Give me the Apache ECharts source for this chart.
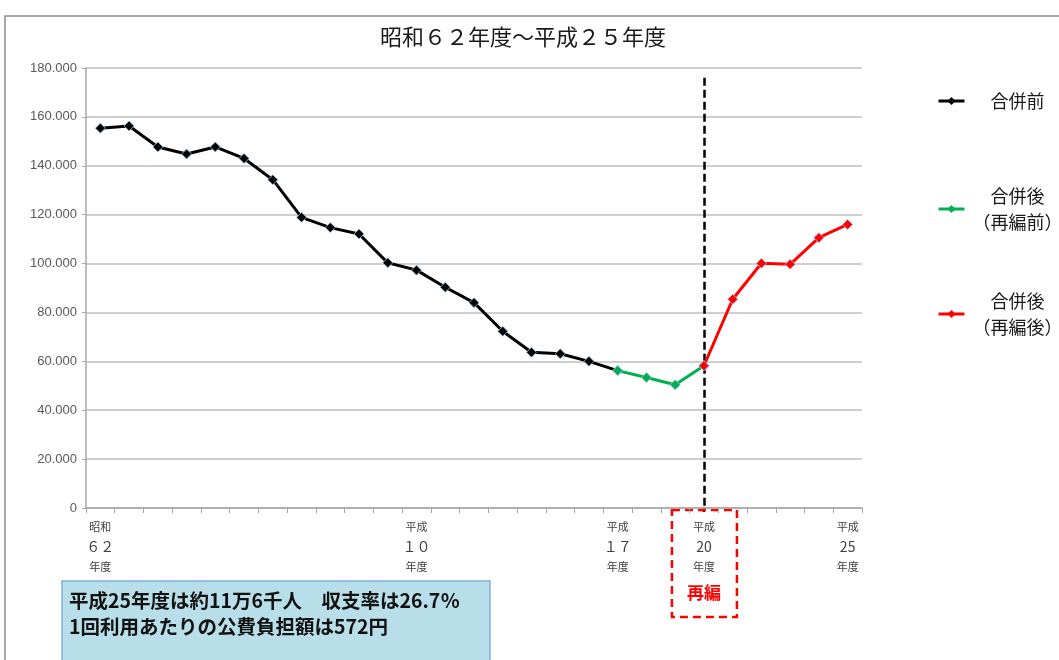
<!DOCTYPE html>
<html lang="ja">
<head>
<meta charset="utf-8">
<title>昭和６２年度～平成２５年度</title>
<script src="https://cdn.jsdelivr.net/npm/echarts@6/dist/echarts.min.js"></script>
<style>
  html, body { margin: 0; padding: 0; background: #ffffff; }
  #chart { width: 1059px; height: 660px; }
</style>
</head>
<body>
<div id="chart"></div>
<script>
// Fiscal years 昭和62 (1987) through 平成25 (2013)
const categories = [
  '昭和62', '昭和63', '平成1', '平成2', '平成3', '平成4', '平成5', '平成6', '平成7',
  '平成8', '平成9', '平成10', '平成11', '平成12', '平成13', '平成14', '平成15',
  '平成16', '平成17', '平成18', '平成19', '平成20', '平成21', '平成22', '平成23',
  '平成24', '平成25'
];

// Users per year, before the merger (昭和62 – 平成17)
const beforeMerger = [
  155400, 156300, 147700, 144800, 147700, 143000, 134300, 118900, 114700,
  112100, 100300, 97300, 90300, 84000, 72300, 63700, 63100, 60000, 56200
];
// After the merger, before reorganisation (平成17 – 平成20)
const afterMergerPre = [56200, 53400, 50400, 58200];
// After the merger and reorganisation (平成20 – 平成25)
const afterMergerPost = [58200, 85400, 100100, 99700, 110600, 116000];

// Axis tick labels shown under selected years
const tickLabelYears = ['昭和62', '平成10', '平成17', '平成20', '平成25'];
const tickLabelLines = [
  ['昭和', '６２', '年度'],
  ['平成', '１０', '年度'],
  ['平成', '１７', '年度'],
  ['平成', '20', '年度'],
  ['平成', '25', '年度']
];

const reorgYear = '平成20';
const reorgLineTop = 176000;
const yMax = 180000;
const yStep = 20000;

const seriesNames = ['合併前', '合併後（再編前）', '合併後（再編後）'];
const legendText = {
  '合併前': '{t|合併前}',
  '合併後（再編前）': '{t|合併後}\n{t|（再編前）}',
  '合併後（再編後）': '{t|合併後}\n{t|（再編後）}'
};

const noteLines = [
  '平成25年度は約11万6千人　収支率は26.7％',
  '1回利用あたりの公費負担額は572円'
];

// Place each segment at its years along the shared category axis
function placeAt(startYear, values) {
  const out = categories.map(() => null);
  const start = categories.indexOf(startYear);
  values.forEach((v, i) => { out[start + i] = v; });
  return out;
}

const FONT = '"Noto Sans CJK JP", "Noto Sans", sans-serif';
const colors = ['#000000', '#00b050', '#ff0000'];

function lineSeries(name, color, data) {
  return {
    name: name,
    type: 'line',
    data: data,
    connectNulls: false,
    symbol: 'diamond',
    symbolSize: 10,
    showSymbol: true,
    lineStyle: { color: color, width: 3 },
    itemStyle: { color: color, borderColor: '#9dc3e6', borderWidth: 0.8 },
    emphasis: { disabled: true },
    z: 3
  };
}

function legendFor(name, top) {
  return {
    data: [name],
    orient: 'vertical',
    left: 932,
    top: top,
    itemWidth: 26,
    itemHeight: 10,
    itemGap: 0,
    selectedMode: false,
    itemStyle: { borderWidth: 0 },
    lineStyle: { width: 3 },
    formatter: n => legendText[n],
    textStyle: {
      fontFamily: FONT,
      color: '#1a1a1a',
      rich: { t: { width: 96, align: 'center', fontSize: 18, lineHeight: 26, fontFamily: FONT, color: '#1a1a1a' } }
    }
  };
}

const chart = echarts.init(document.getElementById('chart'), null, { renderer: 'canvas' });

const option = {
  backgroundColor: '#ffffff',
  animation: false,
  title: {
    text: '昭和６２年度～平成２５年度',
    left: 518,
    textAlign: 'center',
    top: 21,
    textStyle: { fontFamily: FONT, fontSize: 22, fontWeight: 'normal', color: '#1a1a1a' }
  },
  legend: [
    legendFor(seriesNames[0], 87),
    legendFor(seriesNames[1], 182),
    legendFor(seriesNames[2], 287)
  ],
  grid: { left: 86, right: 197, top: 68, bottom: 152, containLabel: false },
  xAxis: {
    type: 'category',
    data: categories,
    boundaryGap: true,
    axisLine: { show: true, lineStyle: { color: '#a6a6a6', width: 1.5 } },
    axisTick: { show: true, interval: 0, length: 5, lineStyle: { color: '#a6a6a6' } },
    axisLabel: {
      interval: (idx, value) => tickLabelYears.includes(value),
      margin: 9,
      formatter: value => {
        const k = tickLabelYears.indexOf(value);
        if (k < 0) return '';
        const l = tickLabelLines[k];
        return '{a|' + l[0] + '}\n{b|' + l[1] + '}\n{a|' + l[2] + '}';
      },
      rich: {
        a: { fontFamily: FONT, fontSize: 11, lineHeight: 20, color: '#404040' },
        b: { fontFamily: FONT, fontSize: 14, lineHeight: 20, color: '#404040' }
      }
    },
    splitLine: { show: false }
  },
  yAxis: {
    type: 'value',
    min: 0,
    max: yMax,
    interval: yStep,
    axisLine: { show: true, lineStyle: { color: '#a6a6a6', width: 1.5 } },
    axisTick: { show: true, length: 4, lineStyle: { color: '#a6a6a6' } },
    axisLabel: {
      margin: 9,
      fontFamily: '"Liberation Sans", Arial, sans-serif',
      fontSize: 13,
      color: '#595959',
      formatter: v => v === 0 ? '0' : Math.floor(v / 1000) + '.' + String(v % 1000).padStart(3, '0')
    },
    splitLine: { show: true, lineStyle: { color: '#bfbfbf', width: 1.5 } }
  },
  series: [
    lineSeries(seriesNames[0], colors[0], placeAt('昭和62', beforeMerger)),
    lineSeries(seriesNames[1], colors[1], placeAt('平成17', afterMergerPre)),
    Object.assign(lineSeries(seriesNames[2], colors[2], placeAt('平成20', afterMergerPost)), {
      markLine: {
        silent: true,
        symbol: ['none', 'none'],
        label: { show: false },
        lineStyle: { color: '#000000', width: 2.5, type: [8, 4] },
        data: [[{ coord: [reorgYear, reorgLineTop] }, { coord: [reorgYear, 0] }]],
        z: 2
      }
    })
  ]
};

chart.setOption(option);

// Frame, reorganisation callout and summary note
const reorgX = chart.convertToPixel({ xAxisIndex: 0 }, reorgYear);
chart.setOption({
  graphic: [
    {
      type: 'rect', silent: true, z: -1,
      shape: { x: 5, y: 16, width: 1200, height: 800 },
      style: { fill: 'none', stroke: '#8c8c8c', lineWidth: 1.5 }
    },
    {
      type: 'line', silent: true,
      shape: { x1: reorgX, y1: 508, x2: reorgX, y2: 512 },
      style: { stroke: '#000000', lineWidth: 2.5 }
    },
    {
      type: 'rect', silent: true,
      shape: { x: reorgX - 32, y: 510, width: 65, height: 107 },
      style: { fill: 'none', stroke: '#ff0000', lineWidth: 2.5, lineDash: [8, 5] }
    },
    {
      type: 'text', silent: true,
      x: reorgX, y: 593,
      style: {
        text: '再編', fill: '#ff0000', font: 'bold 17px ' + FONT,
        textAlign: 'center', textVerticalAlign: 'middle'
      }
    },
    {
      type: 'rect', silent: true,
      shape: { x: 62, y: 581, width: 428, height: 100 },
      style: { fill: '#b8dfe9', stroke: '#7fb0dc', lineWidth: 1.5 }
    },
    {
      type: 'text', silent: true,
      x: 69, y: 588,
      style: {
        text: noteLines.join('\n'), fill: '#111111', font: 'bold 19.5px ' + FONT,
        lineHeight: 26, textAlign: 'left', textVerticalAlign: 'top'
      }
    }
  ]
});
</script>
</body>
</html>
